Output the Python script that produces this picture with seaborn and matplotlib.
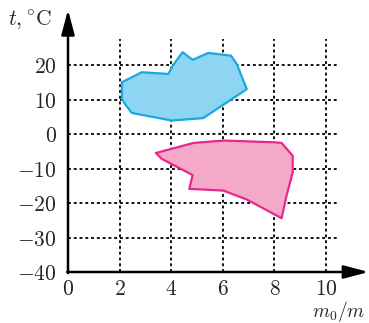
import matplotlib
matplotlib.use("Agg")
import matplotlib.pyplot as plt
import seaborn as sns
import pandas as pd

# Data
blue_x = [2.09, 2.86, 3.89, 4.06, 4.44, 4.83, 5.44, 6.32, 6.54, 6.93, 5.24, 4.02, 2.47, 2.21, 2.09]
blue_y = [15.0, 17.9, 17.4, 19.8, 23.7, 21.5, 23.5, 22.7, 20.3, 13.0, 4.6, 3.9, 6.1, 8.7, 10.1]
pink_x = [3.41, 3.63, 4.83, 4.70, 6.02, 6.93, 8.28, 8.47, 8.71, 8.71, 8.28, 8.02, 6.02, 4.86]
pink_y = [-5.5, -7.2, -11.9, -15.9, -16.4, -19.0, -24.4, -17.9, -11.1, -6.3, -2.6, -2.4, -1.9, -2.6]
x_ticks = [0, 2, 4, 6, 8, 10]
y_ticks = [-40, -30, -20, -10, 0, 10, 20]

sns.set_style("white")
plt.rcParams["mathtext.fontset"] = "cm"

fig = plt.figure(figsize=(3.69, 3.23), dpi=100)
ax = fig.add_axes([68 / 369, 51 / 323, 302 / 369, 263 / 323])
ax.set_xlim(0, 302 / 25.8)
ax.set_ylim(-40, -40 + 263 / 3.45)


def close(xs, ys):
    return list(xs) + [xs[0]], list(ys) + [ys[0]]


bx, by = close(blue_x, blue_y)
px, py = close(pink_x, pink_y)

# grid (dotted)
for gx in x_ticks[1:]:
    ax.plot([gx, gx], [-40, 27.5], color="black", lw=1.3, ls=(0, (1.6, 1.6)), zorder=1)
for gy in y_ticks[1:]:
    ax.plot([0, 10.5], [gy, gy], color="black", lw=1.3, ls=(0, (1.6, 1.6)), zorder=1)

# polygons
ax.fill(bx, by, color="#8dd5f2", zorder=2, lw=0)
ax.fill(px, py, color="#f4a9c8", zorder=2, lw=0)
df_b = pd.DataFrame({"x": bx, "y": by})
df_p = pd.DataFrame({"x": px, "y": py})
sns.lineplot(data=df_b, x="x", y="y", sort=False, estimator=None, color="#1aa8e0", lw=1.6, ax=ax, zorder=3)
sns.lineplot(data=df_p, x="x", y="y", sort=False, estimator=None, color="#e8288a", lw=1.6, ax=ax, zorder=3)
ax.set_xlabel("")
ax.set_ylabel("")

# axes with arrows
for s in ax.spines.values():
    s.set_visible(False)
ap = dict(arrowstyle="-|>,head_length=0.75,head_width=0.2", lw=1.8, color="black",
          mutation_scale=20, shrinkA=0, shrinkB=0)
ax.annotate("", xy=(11.65, -40), xytext=(-0.03, -40), arrowprops=ap, annotation_clip=False)
ax.annotate("", xy=(0, 36.0), xytext=(0, -40.3), arrowprops=ap, annotation_clip=False)

ax.set_xticks(x_ticks)
ax.set_yticks(y_ticks)
ax.set_xticklabels([f"${v}$" for v in x_ticks], fontsize=15.5)
ax.set_yticklabels([f"${v}$" for v in y_ticks], fontsize=15.5)
ax.tick_params(axis="both", length=0)
ax.tick_params(axis="x", pad=5)
ax.tick_params(axis="y", pad=8)

fig.text(8 / 369, 1 - 20 / 323, r"$t,{}^{\circ}\mathrm{C}$", fontsize=15.5, va="center", ha="left")
fig.text(365 / 369, 1 - 311 / 323, r"$m_0/m$", fontsize=14, va="center", ha="right")

fig.savefig("out.png", dpi=100)
